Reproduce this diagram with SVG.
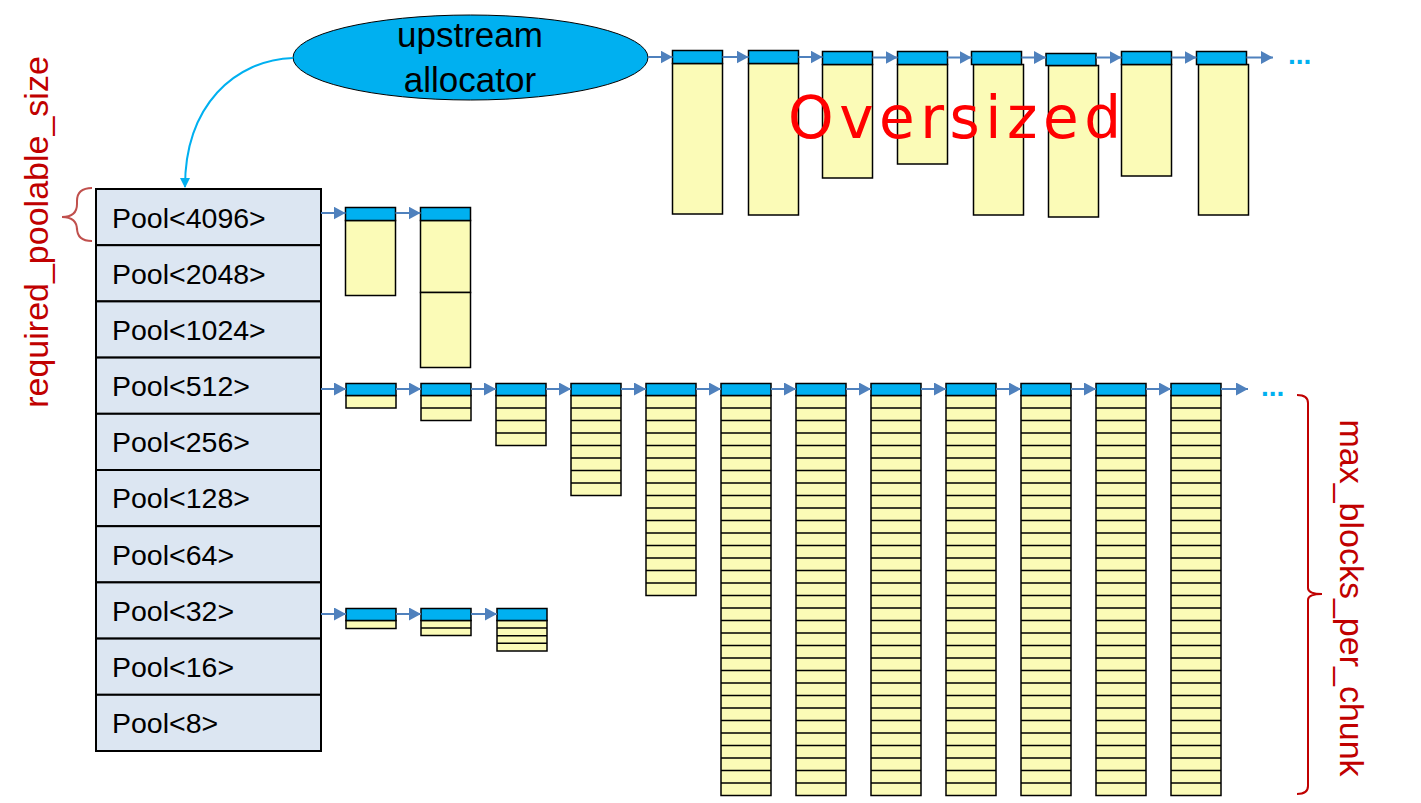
<svg xmlns="http://www.w3.org/2000/svg" xmlns:xlink="http://www.w3.org/1999/xlink" width="1421" height="803" viewBox="0 0 1421 803">
<style>
.hdr{fill:#00B0F0;stroke:#000;stroke-width:1.5}
.body{fill:#FBFBB7;stroke:#000;stroke-width:1.5}
.ln{fill:none;stroke:#000;stroke-width:1.5}
.pool{fill:#DCE6F2;stroke:#000;stroke-width:2}
.plbl{font-family:"Liberation Sans",Arial,sans-serif;font-size:28.5px;fill:#000}
.conn{fill:none;stroke:#4F81BD;stroke-width:2}
.dots{font-family:"Liberation Sans",Arial,sans-serif;font-weight:bold;font-size:28px;fill:#00B0F0}
.red{font-family:"Liberation Sans",Arial,sans-serif;font-size:34px;fill:#C00000}
</style>
<defs>
<marker id="ah" markerUnits="userSpaceOnUse" markerWidth="14" markerHeight="14" refX="12" refY="6.5" orient="auto">
<path d="M0,0 L12,6.5 L0,13 z" fill="#4F81BD"/>
</marker>
<marker id="ahc" markerUnits="userSpaceOnUse" markerWidth="12" markerHeight="12" refX="9" refY="5" orient="auto">
<path d="M0,0 L10,5 L0,10 z" fill="#00B0F0"/>
</marker>
<g id="b1"><rect class="body" width="50" height="12.5"/></g>
<g id="b2"><rect class="body" width="50" height="25"/><path class="ln" d="M0 12.5h50"/></g>
<g id="b4"><rect class="body" width="50" height="50"/><path class="ln" d="M0 12.5h50M0 25h50M0 37.5h50"/></g>
<g id="b8"><rect class="body" width="50" height="100"/><path class="ln" d="M0 12.5h50M0 25h50M0 37.5h50M0 50h50M0 62.5h50M0 75h50M0 87.5h50"/></g>
<g id="b16"><rect class="body" width="50" height="200"/><path class="ln" d="M0 12.5h50M0 25h50M0 37.5h50M0 50h50M0 62.5h50M0 75h50M0 87.5h50M0 100h50M0 112.5h50M0 125h50M0 137.5h50M0 150h50M0 162.5h50M0 175h50M0 187.5h50"/></g>
<g id="b32"><rect class="body" width="50" height="400"/><path class="ln" d="M0 12.5h50M0 25h50M0 37.5h50M0 50h50M0 62.5h50M0 75h50M0 87.5h50M0 100h50M0 112.5h50M0 125h50M0 137.5h50M0 150h50M0 162.5h50M0 175h50M0 187.5h50M0 200h50M0 212.5h50M0 225h50M0 237.5h50M0 250h50M0 262.5h50M0 275h50M0 287.5h50M0 300h50M0 312.5h50M0 325h50M0 337.5h50M0 350h50M0 362.5h50M0 375h50M0 387.5h50"/></g>
</defs>
<rect width="1421" height="803" fill="#fff"/>

<!-- Pool stack -->
<g id="pool4096"><rect class="pool" x="96" y="189" width="225" height="56.2"/><text class="plbl" x="112" y="228">Pool&lt;4096&gt;</text></g>
<g id="pool2048"><rect class="pool" x="96" y="245.2" width="225" height="56.2"/><text class="plbl" x="112" y="284">Pool&lt;2048&gt;</text></g>
<g id="pool1024"><rect class="pool" x="96" y="301.4" width="225" height="56.2"/><text class="plbl" x="112" y="340">Pool&lt;1024&gt;</text></g>
<g id="pool512"><rect class="pool" x="96" y="357.6" width="225" height="56.2"/><text class="plbl" x="112" y="396">Pool&lt;512&gt;</text></g>
<g id="pool256"><rect class="pool" x="96" y="413.8" width="225" height="56.2"/><text class="plbl" x="112" y="452">Pool&lt;256&gt;</text></g>
<g id="pool128"><rect class="pool" x="96" y="470" width="225" height="56.2"/><text class="plbl" x="112" y="508">Pool&lt;128&gt;</text></g>
<g id="pool64"><rect class="pool" x="96" y="526.2" width="225" height="56.2"/><text class="plbl" x="112" y="565">Pool&lt;64&gt;</text></g>
<g id="pool32"><rect class="pool" x="96" y="582.4" width="225" height="56.2"/><text class="plbl" x="112" y="621">Pool&lt;32&gt;</text></g>
<g id="pool16"><rect class="pool" x="96" y="638.6" width="225" height="56.2"/><text class="plbl" x="112" y="677">Pool&lt;16&gt;</text></g>
<g id="pool8"><rect class="pool" x="96" y="694.8" width="225" height="56.2"/><text class="plbl" x="112" y="733">Pool&lt;8&gt;</text></g>

<!-- upstream allocator -->
<g id="upstream">
<ellipse cx="470.5" cy="57.5" rx="177.5" ry="42.5" fill="#00B0F0" stroke="#000" stroke-width="1"/>
<text x="470" y="47" text-anchor="middle" font-family="Liberation Sans,Arial,sans-serif" font-size="35" fill="#000">upstream</text>
<text x="470" y="92" text-anchor="middle" font-family="Liberation Sans,Arial,sans-serif" font-size="35" fill="#000">allocator</text>
</g>

<!-- Oversized chunks -->
<g id="ov1"><rect class="body" x="672.5" y="63.5" width="50" height="150.5"/><rect class="hdr" x="672.5" y="50.5" width="50" height="13"/></g>
<g id="ov2"><rect class="body" x="748.5" y="63.5" width="50" height="151.5"/><rect class="hdr" x="748.5" y="50.5" width="50" height="13"/></g>
<g id="ov3"><rect class="body" x="822.5" y="64.5" width="50" height="113.5"/><rect class="hdr" x="822.5" y="51.5" width="50" height="13"/></g>
<g id="ov4"><rect class="body" x="897.5" y="64.5" width="50" height="99.5"/><rect class="hdr" x="897.5" y="51.5" width="50" height="13"/></g>
<g id="ov5"><rect class="body" x="973.5" y="64.5" width="50" height="150.5"/><rect class="hdr" x="971.5" y="51.5" width="50" height="13"/></g>
<g id="ov6"><rect class="body" x="1048.5" y="65.5" width="50" height="151.5"/><rect class="hdr" x="1046" y="53.5" width="50" height="12"/></g>
<g id="ov7"><rect class="body" x="1121.5" y="64.5" width="50" height="111.5"/><rect class="hdr" x="1121.5" y="51.5" width="50" height="13"/></g>
<g id="ov8"><rect class="body" x="1198.5" y="64.5" width="50" height="150.5"/><rect class="hdr" x="1196.5" y="51.5" width="50" height="13"/></g>
<text x="788" y="138" font-family="'Comic Sans MS','DejaVu Sans',sans-serif" font-size="58" fill="#FF0000" textLength="333" lengthAdjust="spacing">Oversized</text>
<text class="dots" x="1288" y="64">...</text>

<!-- Pool<4096> chunks -->
<g id="c4096a"><rect class="body" x="345.5" y="220.5" width="50" height="75"/><rect class="hdr" x="345.5" y="207.5" width="50" height="13"/></g>
<g id="c4096b"><rect class="body" x="420.5" y="220.5" width="50" height="72"/><rect class="body" x="420.5" y="292.5" width="50" height="75"/><rect class="hdr" x="420.5" y="207.5" width="50" height="13"/></g>

<!-- Pool<512> chunks -->
<g id="c512-1" transform="translate(346,383.5)"><use xlink:href="#b1" y="12"/><rect class="hdr" width="50" height="12"/></g>
<g id="c512-2" transform="translate(421,383.5)"><use xlink:href="#b2" y="12"/><rect class="hdr" width="50" height="12"/></g>
<g id="c512-3" transform="translate(496,383.5)"><use xlink:href="#b4" y="12"/><rect class="hdr" width="50" height="12"/></g>
<g id="c512-4" transform="translate(571,383.5)"><use xlink:href="#b8" y="12"/><rect class="hdr" width="50" height="12"/></g>
<g id="c512-5" transform="translate(646,383.5)"><use xlink:href="#b16" y="12"/><rect class="hdr" width="50" height="12"/></g>
<g id="c512-6" transform="translate(721,383.5)"><use xlink:href="#b32" y="12"/><rect class="hdr" width="50" height="12"/></g>
<g id="c512-7" transform="translate(796,383.5)"><use xlink:href="#b32" y="12"/><rect class="hdr" width="50" height="12"/></g>
<g id="c512-8" transform="translate(871,383.5)"><use xlink:href="#b32" y="12"/><rect class="hdr" width="50" height="12"/></g>
<g id="c512-9" transform="translate(946,383.5)"><use xlink:href="#b32" y="12"/><rect class="hdr" width="50" height="12"/></g>
<g id="c512-10" transform="translate(1021,383.5)"><use xlink:href="#b32" y="12"/><rect class="hdr" width="50" height="12"/></g>
<g id="c512-11" transform="translate(1096,383.5)"><use xlink:href="#b32" y="12"/><rect class="hdr" width="50" height="12"/></g>
<g id="c512-12" transform="translate(1171,383.5)"><use xlink:href="#b32" y="12"/><rect class="hdr" width="50" height="12"/></g>
<text class="dots" x="1261" y="396">...</text>

<!-- Pool<32> chunks -->
<g id="c32-1"><rect class="body" x="346" y="620.5" width="50" height="8"/><rect class="hdr" x="346" y="608.5" width="50" height="12"/></g>
<g id="c32-2"><rect class="body" x="421" y="620.5" width="50" height="15"/><path class="ln" d="M421 628h50"/><rect class="hdr" x="421" y="608.5" width="50" height="12"/></g>
<g id="c32-3"><rect class="body" x="497" y="620.5" width="50" height="30.5"/><path class="ln" d="M497 628.1h50M497 635.7h50M497 643.3h50"/><rect class="hdr" x="497" y="608.5" width="50" height="12"/></g>

<!-- braces and labels -->
<path d="M92,188 Q77,188 77,201 L77,204 Q77,217 62,217 Q77,217 77,230 L77,228 Q77,241 92,241" fill="none" stroke="#C0504D" stroke-width="2"/>
<text class="red" transform="translate(48,232) rotate(-90)" text-anchor="middle">required_poolable_size</text>
<path d="M1297,395 Q1308,395 1308,403 L1308,588 Q1308,594 1322,594 Q1308,594 1308,600 L1308,786 Q1308,794 1297,794" fill="none" stroke="#C00000" stroke-width="2"/>
<text class="red" transform="translate(1340,598) rotate(90)" text-anchor="middle">max_blocks_per_chunk</text>

<!-- connectors -->
<g id="connectors">
<path d="M293,58 C235,60 185,105 185,187" fill="none" stroke="#00B0F0" stroke-width="2" marker-end="url(#ahc)"/>
<path class="conn" marker-end="url(#ah)" d="M648,57 H672.5"/>
<path class="conn" marker-end="url(#ah)" d="M722.5,57 H748.5"/>
<path class="conn" marker-end="url(#ah)" d="M798.5,57 H822.5"/>
<path class="conn" marker-end="url(#ah)" d="M872.5,57.5 H897.5"/>
<path class="conn" marker-end="url(#ah)" d="M947.5,57.5 H971.5"/>
<path class="conn" marker-end="url(#ah)" d="M1021.5,57.5 H1046"/>
<path class="conn" marker-end="url(#ah)" d="M1096,57.5 H1121.5"/>
<path class="conn" marker-end="url(#ah)" d="M1171.5,57.5 H1196.5"/>
<path class="conn" marker-end="url(#ah)" d="M1246.5,57.5 H1273"/>
<path class="conn" marker-end="url(#ah)" d="M321,213 H345.5"/>
<path class="conn" marker-end="url(#ah)" d="M395.5,213 H420.5"/>
<path class="conn" marker-end="url(#ah)" d="M321,389 H346"/>
<path class="conn" marker-end="url(#ah)" d="M396,389 H421"/>
<path class="conn" marker-end="url(#ah)" d="M471,389 H496"/>
<path class="conn" marker-end="url(#ah)" d="M546,389 H571"/>
<path class="conn" marker-end="url(#ah)" d="M621,389 H646"/>
<path class="conn" marker-end="url(#ah)" d="M696,389 H721"/>
<path class="conn" marker-end="url(#ah)" d="M771,389 H796"/>
<path class="conn" marker-end="url(#ah)" d="M846,389 H871"/>
<path class="conn" marker-end="url(#ah)" d="M921,389 H946"/>
<path class="conn" marker-end="url(#ah)" d="M996,389 H1021"/>
<path class="conn" marker-end="url(#ah)" d="M1071,389 H1096"/>
<path class="conn" marker-end="url(#ah)" d="M1146,389 H1171"/>
<path class="conn" marker-end="url(#ah)" d="M1221,389 H1248"/>
<path class="conn" marker-end="url(#ah)" d="M321,614 H346"/>
<path class="conn" marker-end="url(#ah)" d="M396,614 H421"/>
<path class="conn" marker-end="url(#ah)" d="M471,614 H497"/>
</g>
</svg>
